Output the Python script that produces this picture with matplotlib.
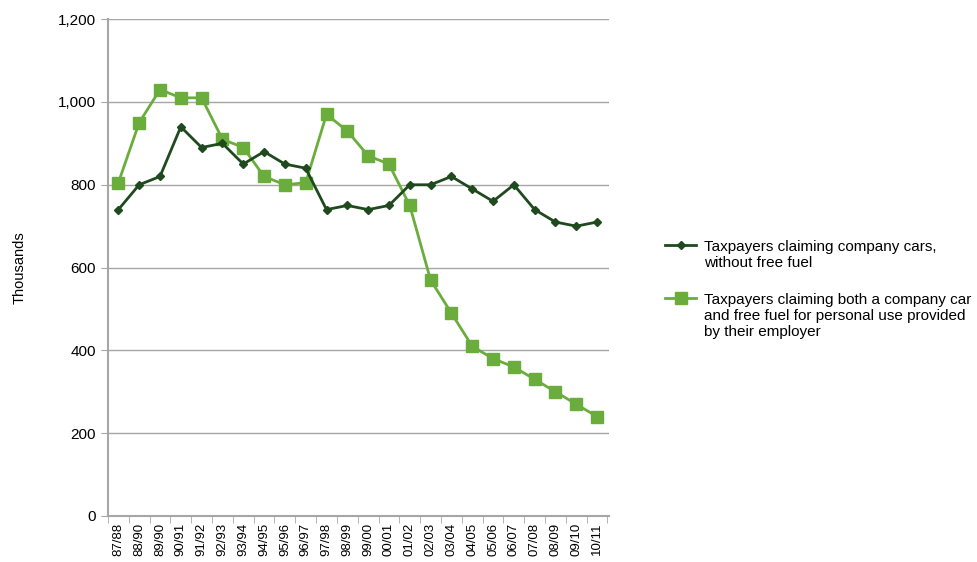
import matplotlib
matplotlib.use("Agg")
import matplotlib.pyplot as plt
import numpy as np

plt.rcParams['font.family'] = ['Liberation Sans', 'DejaVu Sans']

years = ['87/88', '88/90', '89/90', '90/91', '91/92', '92/93', '93/94', '94/95',
         '95/96', '96/97', '97/98', '98/99', '99/00', '00/01', '01/02', '02/03',
         '03/04', '04/05', '05/06', '06/07', '07/08', '08/09', '09/10', '10/11']

no_fuel = [740, 800, 820, 940, 890, 900, 850, 880, 850, 840, 740, 750,
           740, 750, 800, 800, 820, 790, 760, 800, 740, 710, 700, 710]

with_fuel = [805, 950, 1030, 1010, 1010, 910, 890, 820, 800, 805, 970, 930,
             870, 850, 750, 570, 490, 410, 380, 360, 330, 300, 270, 240]

dark = '#1e4a1e'
light = '#6aad3d'
grey = '#a6a6a6'

fig = plt.figure(figsize=(9.77, 5.62), dpi=100)
ax = fig.add_axes([0.1105, 0.0819, 0.513, 0.884])

x = np.arange(len(years))
l1, = ax.plot(x, no_fuel, color=dark, lw=2, marker='D', ms=4.5,
              label='Taxpayers claiming company cars,\nwithout free fuel', zorder=3)
l2, = ax.plot(x, with_fuel, color=light, lw=2, marker='s', ms=8,
              label='Taxpayers claiming both a company car\nand free fuel for personal use provided\nby their employer',
              zorder=2)

ax.set_ylim(0, 1200)
ax.set_xlim(-0.48, len(years) - 0.42)
ax.set_yticks(range(0, 1201, 200))
ax.set_yticklabels(['0', '200', '400', '600', '800', '1,000', '1,200'], fontsize=11)
ax.yaxis.grid(True, color=grey, lw=1)
ax.set_axisbelow(True)

ax.set_xticks(x)
ax.set_xticklabels(years, rotation=90, fontsize=9.5)
ax.set_xticks(np.arange(-0.5, len(years), 1), minor=True)
ax.tick_params(axis='x', which='major', length=0, pad=5)
ax.tick_params(axis='x', which='minor', length=5, color=grey)
ax.tick_params(axis='y', length=5, color=grey)

for s in ['top', 'right']:
    ax.spines[s].set_visible(False)
for s in ['left', 'bottom']:
    ax.spines[s].set_color(grey)
    ax.spines[s].set_linewidth(1.5)

fig.text(0.02, 0.523, 'Thousands', rotation=90, ha='center', va='center', fontsize=10.5)

leg = fig.legend(handles=[l1, l2], loc='upper left', bbox_to_anchor=(0.681, 0.573),
                 frameon=False, fontsize=11, handlelength=2.0, labelspacing=1.5,
                 handletextpad=0.5, borderpad=0, borderaxespad=0)
# put the handle beside the first line of each label
for col in leg._legend_handle_box.get_children():
    for item in col.get_children():
        item.align = 'top'

fig.savefig('out.png', dpi=100)
